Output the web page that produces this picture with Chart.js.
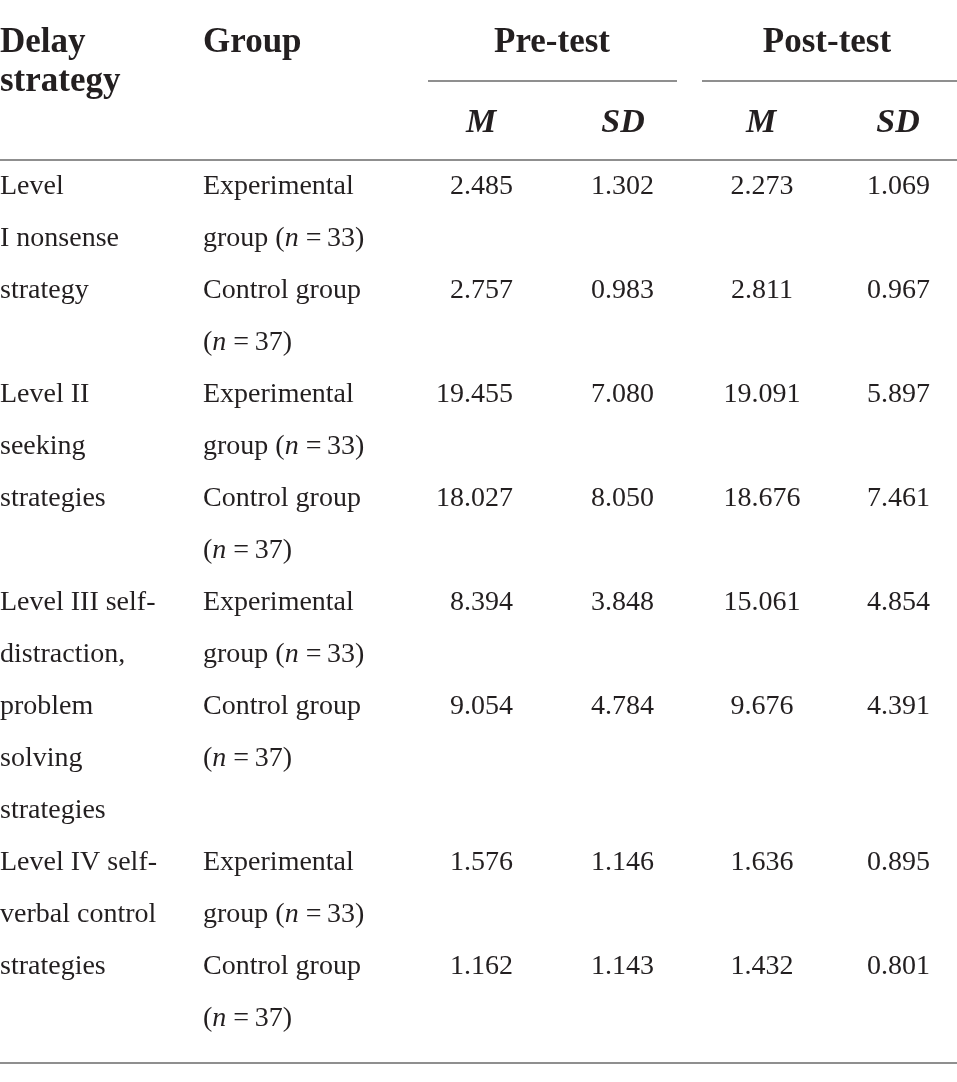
<!DOCTYPE html>
<html>
<head>
<meta charset="utf-8">
<script src="https://cdn.jsdelivr.net/npm/chart.js@4.4.1/dist/chart.umd.min.js"></script>
<style>
  html, body { margin: 0; padding: 0; background: #fff; }
  #wrap { width: 957px; height: 1082px; }
</style>
</head>
<body>
<div id="wrap"><canvas id="tableChart" width="957" height="1082"></canvas></div>
<script>
'use strict'

/// ---- table content ----
const colHeaders = ['Delay strategy', 'Group'];
const testNames = ['Pre-test', 'Post-test'];
const statNames = ['M', 'SD'];

// strategy labels as they wrap in the original
const strategyLines = [
  ['Level', 'I nonsense', 'strategy'],
  ['Level II', 'seeking', 'strategies'],
  ['Level III self-', 'distraction,', 'problem', 'solving', 'strategies'],
  ['Level IV self-', 'verbal control', 'strategies'],
];
const groupLines = [['Experimental', 'group'], ['Control group', '']];
const groupSizes = [33, 37];

// one value per strategy x group (exp, ctrl, exp, ctrl, ...)
const preM   = [2.485, 2.757, 19.455, 18.027, 8.394, 9.054, 1.576, 1.162];
const preSD  = [1.302, 0.983, 7.080, 8.050, 3.848, 4.784, 1.146, 1.143];
const postM  = [2.273, 2.811, 19.091, 18.676, 15.061, 9.676, 1.636, 1.432];
const postSD = [1.069, 0.967, 5.897, 7.461, 4.854, 4.391, 0.895, 0.801];

/// ---- layout (x in px, y in text lines) ----
const W = 957, H = 1082;
const firstBaseline = 194, linePitch = 52;
const L = {
  textCol: [0, 203],
  numAnchor: [513, 654, 762, 930],
  numAlign: ['right', 'right', 'center', 'right'],
  testCenter: [552, 827],
  testRule: [[428, 677], [702, 957]],
  statCenter: [481, 623, 761, 898],
  head1: -2.73, head2: -1.98, statRow: -1.19,
  testRuleY: -2.17, topRule: -0.66, bottomRule: 16.72,
};
const ink = '#231f20';
const ruleColor = '#8f8f8f';
const bodyFont = '28px "Liberation Serif"';
const italicFont = 'italic 28px "Liberation Serif"';
const headFont = 'bold 35px "Liberation Serif"';
const statFont = 'italic bold 34px "Liberation Serif"';

// first text line of each strategy block
const blockStart = [];
let acc = 0;
for (let s = 0; s < strategyLines.length; s++) {
  blockStart.push(acc);
  acc += Math.max(strategyLines[s].length, groupSizes.length * 2);
}
function rowLine(r) {
  return blockStart[Math.floor(r / 2)] + (r % 2) * 2;
}

const columns = [preM, preSD, postM, postSD];

const tablePlugin = {
  id: 'tableText',
  afterDatasetsDraw(chart) {
    const ctx = chart.ctx;
    const xs = chart.scales.x, ys = chart.scales.y;
    const px = v => xs.getPixelForValue(v);
    const py = v => ys.getPixelForValue(v);
    ctx.save();
    ctx.fillStyle = ink;
    ctx.textBaseline = 'alphabetic';

    // rules
    ctx.strokeStyle = ruleColor;
    ctx.lineWidth = 2;
    const hline = (x0, x1, y) => {
      ctx.beginPath();
      ctx.moveTo(px(x0), Math.round(py(y)));
      ctx.lineTo(px(x1), Math.round(py(y)));
      ctx.stroke();
    };
    hline(0, W, L.topRule);
    hline(0, W, L.bottomRule);
    L.testRule.forEach(r => hline(r[0], r[1], L.testRuleY));

    // header
    ctx.font = headFont;
    ctx.textAlign = 'left';
    const dh = colHeaders[0].split(' ');
    ctx.fillText(dh[0], px(L.textCol[0]), py(L.head1));
    ctx.fillText(dh[1], px(L.textCol[0]), py(L.head2));
    ctx.fillText(colHeaders[1], px(L.textCol[1]), py(L.head1));
    ctx.textAlign = 'center';
    testNames.forEach((t, i) => ctx.fillText(t, px(L.testCenter[i]), py(L.head1)));
    ctx.font = statFont;
    L.statCenter.forEach((c, i) => ctx.fillText(statNames[i % 2], px(c), py(L.statRow)));

    // strategy labels
    ctx.font = bodyFont;
    ctx.textAlign = 'left';
    strategyLines.forEach((lines, s) => {
      lines.forEach((t, k) => ctx.fillText(t, px(L.textCol[0]), py(blockStart[s] + k)));
    });

    // group labels with italic n
    for (let r = 0; r < strategyLines.length * 2; r++) {
      const g = r % 2, line = rowLine(r);
      let x = px(L.textCol[1]);
      ctx.font = bodyFont;
      ctx.fillText(groupLines[g][0], x, py(line));
      const y2 = py(line + 1);
      const runs = [
        [bodyFont, (groupLines[g][1] ? groupLines[g][1] + ' ' : '') + '('],
        [italicFont, 'n'],
        [bodyFont, ' =\u2009' + groupSizes[g] + ')'],
      ];
      runs.forEach(([f, t]) => {
        ctx.font = f;
        ctx.fillText(t, x, y2);
        x += ctx.measureText(t).width;
      });
    }

    // numeric cells, placed by the scatter points
    ctx.font = bodyFont;
    chart.data.datasets.forEach((ds, d) => {
      const meta = chart.getDatasetMeta(d);
      ctx.textAlign = L.numAlign[d];
      meta.data.forEach((pt, i) => {
        ctx.fillText(ds.data[i].value.toFixed(3), pt.x, pt.y);
      });
    });
    ctx.restore();
  }
};

function createTable() {
  const ctx = document.getElementById('tableChart').getContext('2d');
  const yMin = -firstBaseline / linePitch;
  new Chart(ctx, {
    type: 'scatter',
    data: {
      datasets: columns.map((vals, c) => ({
        label: (c < 2 ? testNames[0] : testNames[1]) + ' ' + statNames[c % 2],
        data: vals.map((v, r) => ({ x: L.numAnchor[c], y: rowLine(r), value: v })),
        pointRadius: 0,
        pointHoverRadius: 0,
      })),
    },
    options: {
      responsive: false,
      animation: false,
      events: [],
      layout: { padding: 0 },
      plugins: { legend: { display: false }, tooltip: { enabled: false } },
      scales: {
        x: { type: 'linear', min: 0, max: W, display: false },
        y: { type: 'linear', min: yMin, max: yMin + H / linePitch, reverse: true, display: false },
      },
    },
    plugins: [tablePlugin],
  });
}

createTable();
</script>
</body>
</html>
